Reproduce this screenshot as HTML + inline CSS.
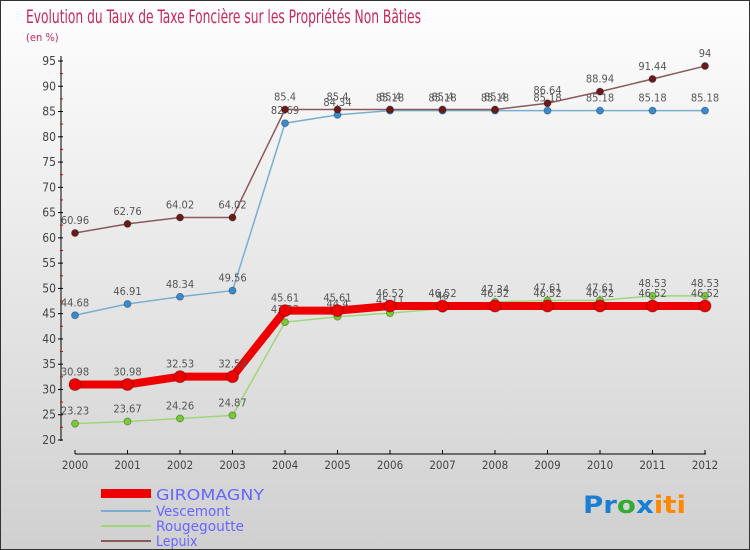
<!DOCTYPE html>
<html><head><meta charset="utf-8"><style>
body{margin:0}
#c{width:748px;height:548px;border:1px solid #333;background:linear-gradient(#fefefe,#d0d0d0);position:relative;font-family:"DejaVu Sans Condensed","Liberation Sans",sans-serif;overflow:hidden}
svg text{font-family:"DejaVu Sans Condensed","Liberation Sans",sans-serif}
</style></head><body>
<div id="c">
<svg id="s" width="748" height="548" xmlns="http://www.w3.org/2000/svg">
<text x="25" y="22" font-size="19" fill="#c8285a" textLength="395" lengthAdjust="spacingAndGlyphs">Evolution du Taux de Taxe Foncière sur les Propriétés Non Bâties</text>
<text x="25" y="40" font-size="11" fill="#c8285a">(en %)</text>
<g id="axes"></g><g id="series"></g>
<g>
<rect x="100" y="488" width="50" height="9" fill="#e00"/>
<text x="155" y="499" font-size="15" fill="#66f" textLength="108" lengthAdjust="spacingAndGlyphs">GIROMAGNY</text>
<rect x="100" y="509" width="50" height="2" fill="#7aaed0"/>
<text x="155" y="515" font-size="14" fill="#66f" textLength="74" lengthAdjust="spacingAndGlyphs">Vescemont</text>
<rect x="100" y="524" width="50" height="2" fill="#9ed67a"/>
<text x="155" y="530" font-size="14" fill="#66f" textLength="88" lengthAdjust="spacingAndGlyphs">Rougegoutte</text>
<rect x="100" y="539" width="50" height="2" fill="#8a5a5a"/>
<text x="155" y="545" font-size="14" fill="#66f">Lepuix</text>
</g>
<text x="582" y="512" font-size="24" font-weight="bold" textLength="103" lengthAdjust="spacingAndGlyphs"><tspan fill="#1a7fd0">Pr</tspan><tspan fill="#3a3">o</tspan><tspan fill="#1a7fd0">x</tspan><tspan fill="#f80">iti</tspan></text>
</svg></div>
<script>
const years=[2000,2001,2002,2003,2004,2005,2006,2007,2008,2009,2010,2011,2012];
const yTicks=[20,25,30,35,40,45,50,55,60,65,70,75,80,85,90,95];
const giromagny=[30.98,30.98,32.53,32.53,45.61,45.61,46.52,46.52,46.52,46.52,46.52,46.52,46.52];
const vescemont=[44.68,46.91,48.34,49.56,82.69,84.34,85.18,85.18,85.18,85.18,85.18,85.18,85.18];
const rougegoutte=[23.23,23.67,24.26,24.87,43.32,44.4,45.11,46,47.34,47.61,47.61,48.53,48.53];
const lepuix=[60.96,62.76,64.02,64.02,85.4,85.4,85.4,85.4,85.4,86.64,88.94,91.44,94];
const NS="http://www.w3.org/2000/svg";
const X=i=>74+i*52.5, Y=v=>439-(v-20)*(379/75);
function mk(t,a,p){const e=document.createElementNS(NS,t);for(const k in a)e.setAttribute(k,a[k]);p.appendChild(e);return e;}
const ax=document.getElementById('axes'),sr=document.getElementById('series');
const yl=mk('line',{x1:60,y1:55,x2:60,y2:440,stroke:'#000'},ax);


yTicks.forEach(v=>{const y=Y(v);
mk('line',{x1:57,y1:y,x2:62,y2:y,stroke:'#000'},ax);
mk('line',{x1:59,y1:y+12.6,x2:62,y2:y+12.6,stroke:v>20?'#d00':'none'},ax);
const t=mk('text',{x:55,y:y+4,'font-size':12,fill:'#444','text-anchor':'end'},ax);t.textContent=v;

});
const xl=mk('line',{x1:74,y1:453,x2:705,y2:453,stroke:'#000'},ax);


years.forEach((yr,i)=>{mk('line',{x1:X(i),y1:449,x2:X(i),y2:453,stroke:'#000'},ax);
const t=mk('text',{x:X(i),y:468,'font-size':11.5,fill:'#444','text-anchor':'middle'},ax);t.textContent=yr;

});
function series(vals,name,color,w,r,fill){
const g=mk('g',{},sr);


mk('polyline',{points:vals.map((v,i)=>X(i)+','+Y(v)).join(' '),fill:'none',stroke:color,'stroke-width':w},g);
vals.forEach((v,i)=>{const c=mk('circle',{cx:X(i),cy:Y(v),r:r,fill:fill,stroke:'rgba(0,0,0,0.3)'},g);


const t=mk('text',{x:X(i),y:Y(v)-9,'font-size':11,fill:'#555','text-anchor':'middle'},g);t.textContent=v;

});}
series(rougegoutte,'rougegoutte','#9ed67a',1.5,3.5,'#7c3');
series(vescemont,'vescemont','#7aaed0',1.5,3.5,'#3a8ad0');
series(lepuix,'lepuix','#8a5a5a',1.5,3.5,'#6a1a1a');
series(giromagny,'giromagny','#e00',8,6,'#e00');
</script></body></html>
